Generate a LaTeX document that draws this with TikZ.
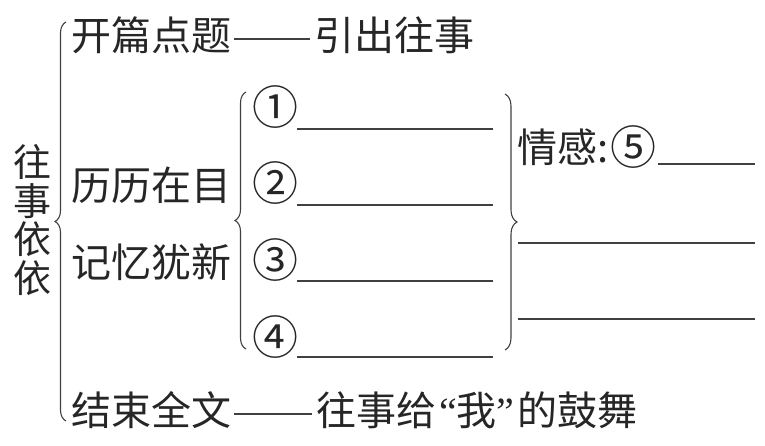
\documentclass[tikz,border=0pt]{standalone}
\usepackage{fontspec}
\newfontfamily\cjk{Noto Sans CJK SC}
\newfontfamily\quotefont{Liberation Serif}
\usetikzlibrary{decorations.pathreplacing}
\begin{document}
\begin{tikzpicture}[x=1pt,y=-1pt,
  txt/.style={inner sep=0pt,anchor=west,font=\cjk\fontsize{40}{40}\selectfont,text=black!85},
  circ/.style={inner sep=0pt,font=\cjk\fontsize{46}{46}\selectfont,text=black!85},
  ln/.style={line width=1.1pt,draw=black!75},
  brc/.style={line width=1.1pt,draw=black!75,decorate,decoration={brace,amplitude=#1}}]
\useasboundingbox (0,0) rectangle (765,446);
% left vertical title
\node[inner sep=0pt,align=center,font=\cjk\fontsize{38}{38.5}\selectfont,text=black!85] (title) at (32,220) {往\\事\\依\\依};
% big left brace
\coordinate (lb1) at (66,421);
\coordinate (lb2) at (66,22);
\draw[brc=11] (lb1) -- (lb2);
% rows
\node[txt] (a1) at (71,35) {开篇点题};
\node[txt] (a2) at (314,35) {引出往事};
\draw[ln] ([yshift=-4pt,xshift=3pt]a1.east) -- ([yshift=-4pt,xshift=-4pt]a2.west);
\node[txt] (b1) at (71,185) {历历在目};
\node[txt] (b2) at (71,262) {记忆犹新};
\node[txt] (c1) at (71,410) {结束全文};
\node[txt] (c2) at (316,410) {往事给\kern3pt{\quotefont“}我{\quotefont”}\kern3pt 的鼓舞};
\draw[ln] ([yshift=-4pt,xshift=3pt]c1.east) -- ([yshift=-4pt,xshift=-4pt]c2.west);
% inner brace
\coordinate (ib1) at (246,349);
\coordinate (ib2) at (246,92);
\draw[brc=11] (ib1) -- (ib2);
% circled numbers and blanks
\node[circ] (n1) at (275,107) {①};
\node[circ] (n2) at (275,183) {②};
\node[circ] (n3) at (275,260) {③};
\node[circ] (n4) at (275,337) {④};
\foreach \i/\y in {1/129,2/205,3/281,4/357}{
  \coordinate (s\i) at (297,\y);
  \coordinate (e\i) at (493,\y);
  \draw[ln] (s\i) -- (e\i);
}
% right brace
\coordinate (rb1) at (505,94);
\coordinate (rb2) at (505,350);
\draw[brc=12] (rb1) -- (rb2);
\node[txt] (q) at (517,147) {情感:};
\node[circ,anchor=west] (q5) at ([xshift=2pt]q.east) {⑤};
\coordinate (q1) at (658,164);
\coordinate (q2) at (755,164);
\draw[ln] (q1) -- (q2);
\coordinate (r1) at (518,243);
\coordinate (r2) at (755,243);
\draw[ln] (r1) -- (r2);
\coordinate (r3) at (518,319);
\coordinate (r4) at (755,319);
\draw[ln] (r3) -- (r4);
\end{tikzpicture}
\end{document}
